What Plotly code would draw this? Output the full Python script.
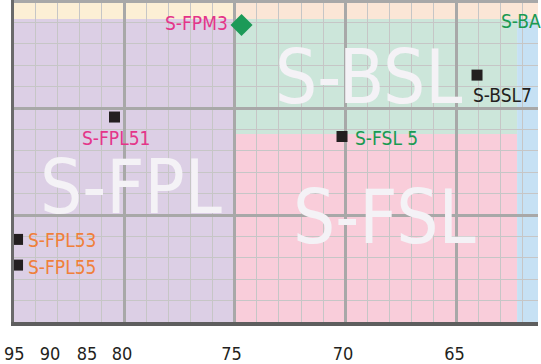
import plotly.graph_objects as go

# ---- data ----
tick_labels = ["95", "90", "85", "80", "75", "70", "65"]
tick_pos = [84.96, 83.34, 81.67, 80.09, 75.14, 70.1, 65.07]

point_names = ["S-FPM3", "S-FPL51", "S-BSL7", "S-FSL 5", "S-FPL53", "S-FPL55"]
point_x = [74.69, 80.43, 64.05, 70.15, 84.81, 84.81]
point_y = [13.88, 9.58, 11.54, 8.67, 3.86, 2.66]

region_names = ["S-FPL", "S-BSL", "S-FSL"]
region_label_x = [79.68, 68.97, 68.25]
region_label_y = [6.29, 11.47, 4.93]

X_LEFT, X_RIGHT = 84.97, 61.295
Y_TOP = 15.05
X_FPL_EDGE = 75.0
X_BA_EDGE = 62.24
Y_BAND = 14.16
Y_BSL_FSL = 8.79

NARROW = "DejaVu Sans Condensed, Liberation Sans Narrow, sans-serif"

fig = go.Figure()

# background regions
regions = [
    (X_LEFT, X_FPL_EDGE, Y_BAND, Y_TOP, "#fcefd5"),
    (X_FPL_EDGE, X_RIGHT, Y_BAND, Y_TOP, "#fbe6d6"),
    (X_LEFT, X_FPL_EDGE, 0, Y_BAND, "#dccfe5"),
    (X_FPL_EDGE, X_BA_EDGE, Y_BSL_FSL, Y_BAND, "#cce6da"),
    (X_FPL_EDGE, X_BA_EDGE, 0, Y_BSL_FSL, "#f9cdda"),
    (X_BA_EDGE, X_RIGHT, 0, Y_BAND, "#c6e1f4"),
]
for x0, x1, y0, y1, c in regions:
    fig.add_shape(type="rect", x0=x0, x1=x1, y0=y0, y1=y1, xref="x", yref="y",
                  fillcolor=c, line=dict(width=0), layer="below")

# markers
sq_idx = [i for i, n in enumerate(point_names) if n != "S-FPM3"]
dm_idx = [i for i, n in enumerate(point_names) if n == "S-FPM3"]
fig.add_trace(go.Scatter(
    x=[point_x[i] for i in sq_idx], y=[point_y[i] for i in sq_idx],
    mode="markers", marker=dict(symbol="square", size=11, color="#231f20"),
    hoverinfo="skip", showlegend=False))
fig.add_trace(go.Scatter(
    x=[point_x[i] for i in dm_idx], y=[point_y[i] for i in dm_idx],
    mode="markers", marker=dict(symbol="diamond", size=17, color="#1c9a58"),
    hoverinfo="skip", showlegend=False))

# invisible trace for the label axis
fig.add_trace(go.Scatter(x=[70], y=[5], xaxis="x2", mode="markers",
                         marker=dict(opacity=0), hoverinfo="skip", showlegend=False))

# point labels
label_style = {
    "S-FPM3": dict(color="#e4358a", xanchor="right", xshift=-12, yshift=2.5),
    "S-FPL51": dict(color="#e4358a", xanchor="center", xshift=2, yshift=-20.5),
    "S-BSL7": dict(color="#231f20", xanchor="left", xshift=-6, yshift=-20),
    "S-FSL 5": dict(color="#1a9a52", xanchor="left", xshift=11, yshift=-1.5),
    "S-FPL53": dict(color="#f0803a", xanchor="left", xshift=8.5, yshift=-0.5),
    "S-FPL55": dict(color="#f0803a", xanchor="left", xshift=8.5, yshift=-2),
}
for n, x, y in zip(point_names, point_x, point_y):
    s = label_style[n]
    fig.add_annotation(x=x, y=y, xref="x", yref="y", text=n, showarrow=False,
                       xanchor=s["xanchor"], yanchor="middle",
                       xshift=s["xshift"], yshift=s["yshift"],
                       font=dict(family=NARROW, size=19, color=s["color"]))

# S-BA label (cut at the right edge)
fig.add_annotation(x=63.05, y=14.07, xref="x", yref="y", text="S-BA", showarrow=False,
                   xanchor="left", yanchor="middle",
                   font=dict(family=NARROW, size=19, color="#1a9a52"))

# big region labels
for n, x, y in zip(region_names, region_label_x, region_label_y):
    fig.add_annotation(x=x, y=y, xref="x", yref="y", text=n, showarrow=False,
                       xanchor="center", yanchor="middle",
                       font=dict(family=NARROW, size=74, color="#f4f2f6"))

fig.update_layout(
    width=541, height=364,
    margin=dict(l=14, r=3, t=0, b=42, autoexpand=False),
    paper_bgcolor="white", plot_bgcolor="white",
    showlegend=False,
    xaxis=dict(range=[X_LEFT, X_RIGHT], tick0=0, dtick=5, showgrid=True,
               gridcolor="#a8a8a8", gridwidth=2.5,
               minor=dict(dtick=1, showgrid=True, gridcolor="#c6c6c6", gridwidth=1),
               showticklabels=False, ticks="", zeroline=False, automargin=False,
               showline=True, linecolor="#5e5e5e", linewidth=4),
    xaxis2=dict(range=[X_LEFT, X_RIGHT], overlaying="x", side="bottom", anchor="y",
                tickmode="array", tickvals=tick_pos, ticktext=tick_labels,
                showgrid=False, zeroline=False, ticks="", ticklabelstandoff=19,
                automargin=False,
                tickfont=dict(family=NARROW, size=18, color="#231f20")),
    yaxis=dict(range=[0, Y_TOP], tick0=0, dtick=5, showgrid=True,
               gridcolor="#a8a8a8", gridwidth=2.5,
               minor=dict(dtick=1, showgrid=True, gridcolor="#c6c6c6", gridwidth=1),
               showticklabels=False, ticks="", zeroline=False, automargin=False,
               showline=True, linecolor="#6a6a6a", linewidth=3),
)

fig.write_html("out.html",
               config={"displayModeBar": False},
               post_script="document.body.style.margin='0';document.body.style.padding='0';")
